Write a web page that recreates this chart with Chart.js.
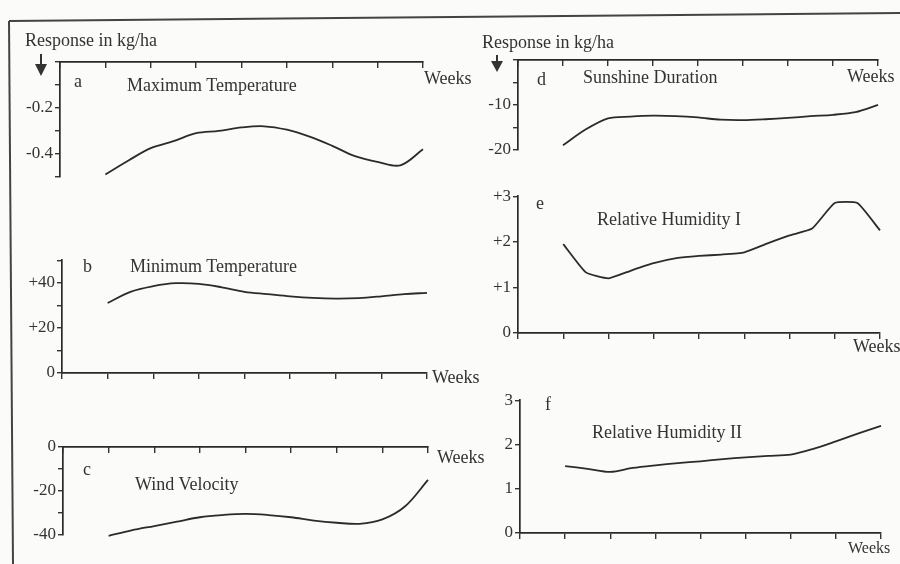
<!DOCTYPE html>
<html>
<head>
<meta charset="utf-8">
<script src="https://cdn.jsdelivr.net/npm/chart.js@4.4.1/dist/chart.umd.min.js"></script>
<style>
  html, body { margin: 0; padding: 0; background: #fbfbf9; }
  #page { position: relative; width: 900px; height: 564px; overflow: hidden;
          font-family: "Liberation Serif", "DejaVu Serif", serif; color: #333; }
  #page canvas { position: absolute; }
  .lbl { position: absolute; white-space: nowrap; line-height: 1; }
  svg { position: absolute; left: 0; top: 0; }
</style>
</head>
<body>
<div id="page">
  <svg width="900" height="564">
    <line x1="9" y1="21" x2="900" y2="13" stroke="#444" stroke-width="2"/>
    <line x1="9" y1="21" x2="13" y2="564" stroke="#444" stroke-width="2"/>
    <line x1="41" y1="54" x2="41" y2="66" stroke="#333" stroke-width="2"/>
    <polygon points="35,64 47,64 41,76" fill="#333"/>
    <line x1="497" y1="55" x2="497" y2="63" stroke="#333" stroke-width="2"/>
    <polygon points="491,61 503,61 497,72" fill="#333"/>
  </svg>
</div>
<script>
const weeks = [1, 1.5, 2, 2.5, 3, 3.5, 4, 4.5, 5, 5.5, 6, 6.5, 7, 7.5, 8];

// response values per panel
const maxTemp = [-0.49, -0.43, -0.375, -0.345, -0.31, -0.30, -0.285, -0.28, -0.295, -0.325, -0.365, -0.41, -0.435, -0.45, -0.38];
const minTemp = [31, 36, 38.5, 39.8, 39.5, 38, 36, 35, 34, 33.3, 33, 33.2, 34, 35, 35.5];
const windVel = [-40.5, -38, -36, -34, -32, -31, -30.5, -31, -32, -33.5, -34.5, -35, -33, -27, -15];
const sunshine = [-19, -15.5, -13, -12.6, -12.4, -12.5, -12.8, -13.3, -13.4, -13.2, -12.9, -12.5, -12.2, -11.6, -10];
const relHum1 = [1.95, 1.33, 1.2, 1.37, 1.53, 1.64, 1.69, 1.72, 1.77, 1.96, 2.14, 2.29, 2.85, 2.85, 2.25];
const relHum2 = [1.51, 1.45, 1.38, 1.47, 1.53, 1.58, 1.62, 1.67, 1.71, 1.74, 1.77, 1.9, 2.07, 2.25, 2.42];

// labelled y ticks
const ticksA = [-0.2, -0.4], tickLabelsA = ['-0.2', '-0.4'];
const ticksB = [40, 20, 0], tickLabelsB = ['+40', '+20', '0'];
const ticksC = [0, -20, -40], tickLabelsC = ['0', '-20', '-40'];
const ticksD = [-10, -20], tickLabelsD = ['-10', '-20'];
const ticksE = [3, 2, 1, 0], tickLabelsE = ['+3', '+2', '+1', '0'];
const ticksF = [3, 2, 1, 0], tickLabelsF = ['3', '2', '1', '0'];

const PAD = 12, YW = 44, XH = 6;
const page = document.getElementById('page');

function labelFor(v, vals, labels) {
    const i = vals.findIndex(t => Math.abs(t - v) < 1e-6);
    return i < 0 ? '' : labels[i];
}

function makePanel(p) {
    const xTop = p.xPos === 'top';
    const plotW = p.right - p.axisX, plotH = p.bottom - p.top;
    const cv = document.createElement('canvas');
    cv.width = YW + plotW + 2 * PAD;
    cv.height = plotH + XH + 2 * PAD;
    cv.style.left = (p.axisX - PAD - YW) + 'px';
    cv.style.top = (p.top - PAD - (xTop ? XH : 0)) + 'px';
    page.appendChild(cv);

    new Chart(cv, {
        type: 'line',
        data: {
            datasets: [{
                data: weeks.map((w, i) => ({ x: w, y: p.values[i] })),
                borderColor: '#2b2b2b',
                borderWidth: 1.8,
                pointRadius: 0,
                tension: p.tension,
                fill: false,
                clip: false
            }]
        },
        options: {
            responsive: false,
            animation: false,
            devicePixelRatio: 1,
            layout: { padding: PAD },
            plugins: { legend: { display: false }, tooltip: { enabled: false } },
            scales: {
                x: {
                    type: 'linear', position: p.xPos, min: 0, max: 8,
                    ticks: { display: false, stepSize: 1, autoSkip: false },
                    grid: { display: true, drawOnChartArea: false, drawTicks: true,
                            tickLength: xTop ? -6 : 6, color: '#333', lineWidth: 1.4 },
                    border: { display: true, color: '#2a2a2a', width: 1.7 },
                    afterFit: s => { s.height = XH; }
                },
                y: {
                    type: 'linear', position: 'left', min: p.min, max: p.max,
                    ticks: {
                        stepSize: p.step, autoSkip: false, padding: 2, color: '#333',
                        font: { family: 'Liberation Serif', size: 17 },
                        callback: v => labelFor(v, p.tickVals, p.tickLabels)
                    },
                    grid: { display: true, drawOnChartArea: false, tickLength: 5, color: '#333', lineWidth: 1.4 },
                    border: { display: true, color: '#2a2a2a', width: 1.7 },
                    afterFit: s => { s.width = YW; }
                }
            }
        }
    });
}

makePanel({ values: maxTemp, axisX: 60, right: 423, top: 62, bottom: 177, xPos: 'top',
            min: -0.5, max: 0, step: 0.1, tickVals: ticksA, tickLabels: tickLabelsA, tension: 0.35 });
makePanel({ values: minTemp, axisX: 62, right: 427, top: 260, bottom: 373, xPos: 'bottom',
            min: 0, max: 50, step: 10, tickVals: ticksB, tickLabels: tickLabelsB, tension: 0.35 });
makePanel({ values: windVel, axisX: 63, right: 428, top: 447, bottom: 535, xPos: 'top',
            min: -40, max: 0, step: 10, tickVals: ticksC, tickLabels: tickLabelsC, tension: 0.35 });
makePanel({ values: sunshine, axisX: 518, right: 878, top: 60, bottom: 150, xPos: 'top',
            min: -20, max: 0, step: 5, tickVals: ticksD, tickLabels: tickLabelsD, tension: 0.3 });
makePanel({ values: relHum1, axisX: 518, right: 880, top: 196, bottom: 333, xPos: 'bottom',
            min: 0, max: 3, step: 1, tickVals: ticksE, tickLabels: tickLabelsE, tension: 0.15 });
makePanel({ values: relHum2, axisX: 520, right: 881, top: 400, bottom: 533, xPos: 'bottom',
            min: 0, max: 3, step: 1, tickVals: ticksF, tickLabels: tickLabelsF, tension: 0.3 });

// text placed by baseline
function label(text, x, baseline, size) {
    const d = document.createElement('div');
    d.className = 'lbl';
    d.textContent = text;
    d.style.fontSize = size + 'px';
    d.style.left = x + 'px';
    d.style.top = (baseline - 0.8375 * size) + 'px';
    page.appendChild(d);
}

label('Response in kg/ha', 25, 46, 18);
label('Response in kg/ha', 482, 48, 18);
label('a', 74, 87, 18);
label('Maximum Temperature', 127, 91, 18);
label('Weeks', 424, 84, 18);
label('b', 83, 272, 18);
label('Minimum Temperature', 130, 272, 18);
label('Weeks', 432, 383, 18);
label('c', 83, 475, 18);
label('Wind Velocity', 135, 490, 18);
label('Weeks', 437, 463, 18);
label('d', 537, 85, 18);
label('Sunshine Duration', 583, 83, 18);
label('Weeks', 847, 82, 18);
label('e', 536, 209, 18);
label('Relative Humidity I', 597, 225, 18);
label('Weeks', 853, 352, 18);
label('f', 545, 410, 18);
label('Relative Humidity II', 592, 438, 18);
label('Weeks', 848, 553, 16);
</script>
</body>
</html>
